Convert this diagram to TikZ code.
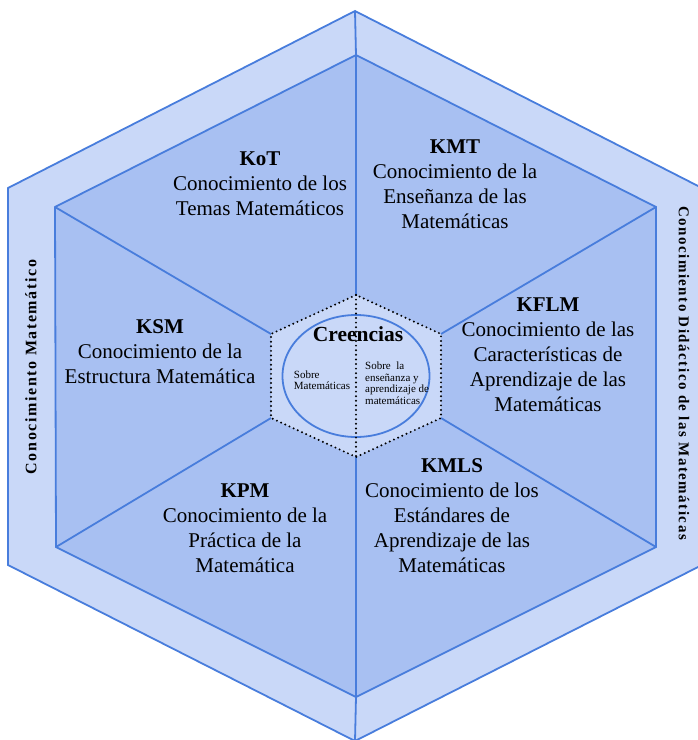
\documentclass[tikz,border=0pt]{standalone}
\usepackage{fontspec}
\setmainfont{Liberation Serif}
\usetikzlibrary{shapes.geometric}
\definecolor{banda}{RGB}{201,216,248}
\definecolor{sector}{RGB}{168,192,242}
\definecolor{linea}{RGB}{72,125,220}
\newcommand{\subdom}[2]{\textbf{#1}\\#2}

\begin{document}
\begin{tikzpicture}[x=1pt,y=-1pt]
                        \tikzstyle{borde}=[draw=linea,line width=1.8pt]
                        \tikzstyle{puntos}=[line width=2.2pt,line cap=round,dash pattern=on 0pt off 4.6pt]
                        \tikzstyle{dominio}=[align=center,font=\fontsize{21}{25}\selectfont]
                        \tikzstyle{nota}=[align=left,font=\fontsize{11}{11.5}\selectfont,inner sep=0pt]
                        \tikzstyle{lateral}=[font=\fontsize{15}{15}\selectfont\bfseries\addfontfeature{LetterSpace=10}]
                        \useasboundingbox (0,0) rectangle (698,740);
                        % vertices
                        \coordinate (o1) at (355,11);
                        \coordinate (o2) at (8,188);
                        \coordinate (o3) at (8,565);
                        \coordinate (o4) at (355,741);
                        \coordinate (o5) at (702,565);
                        \coordinate (o6) at (702,188);
                        \coordinate (i1) at (356,55);
                        \coordinate (i2) at (55,207);
                        \coordinate (i3) at (56,547);
                        \coordinate (i4) at (356,697);
                        \coordinate (i5) at (656,547);
                        \coordinate (i6) at (656,207);
                        \coordinate (c1) at (356,295);
                        \coordinate (c2) at (271,334);
                        \coordinate (c3) at (271,418);
                        \coordinate (c4) at (356,457);
                        \coordinate (c5) at (441,418);
                        \coordinate (c6) at (441,334);
                        % hexagons
                        \draw[borde,fill=banda] (o1) -- (o2) -- (o3) -- (o4) -- (o5) -- (o6) -- cycle;
                        \draw[borde,fill=sector] (i1) -- (i2) -- (i3) -- (i4) -- (i5) -- (i6) -- cycle;
                        \draw[borde] (o1) -- (i1);
                        \draw[borde] (o4) -- (i4);
                        \foreach \k in {1,...,6}
                            \draw[borde] (i\k) -- (c\k);
                        \fill[banda] (c1) -- (c2) -- (c3) -- (c4) -- (c5) -- (c6) -- cycle;
                        \draw[puntos] (c1) -- (c2) -- (c3) -- (c4) -- (c5) -- (c6) -- cycle;
                        \node (creen) [ellipse,borde,minimum width=147pt,minimum height=122pt] at (356,376) {};
                        \draw[puntos] (c1) -- (c4);
                        % labels
                        \node (kot) [dominio] at (260,184) {\subdom{KoT}{Conocimiento de los\\Temas Matemáticos}};
                        \node (kmt) [dominio] at (455,184) {\subdom{KMT}{Conocimiento de la\\Enseñanza de las\\Matemáticas}};
                        \node (kflm) [dominio] at (548,355) {\subdom{KFLM}{Conocimiento de las\\Características de\\Aprendizaje de las\\Matemáticas}};
                        \node (ksm) [dominio] at (160,352) {\subdom{KSM}{Conocimiento de la\\Estructura Matemática}};
                        \node (kpm) [dominio] at (245,528) {\subdom{KPM}{Conocimiento de la\\Práctica de la\\Matemática}};
                        \node (kmls) [dominio] at (452,516) {\subdom{KMLS}{Conocimiento de los\\Estándares de\\Aprendizaje de las\\Matemáticas}};
                        \node (titulo) [font=\fontsize{21.5}{21.5}\selectfont\bfseries] at (358,334) {Creencias};
                        \node (sobremat) [nota] at (322,380) {Sobre\\Matemáticas};
                        \node (sobreens) [nota,anchor=west] at (365,383) {Sobre\ \ la\\enseñanza y\\aprendizaje de\\matemáticas};
                        \node (cm) [lateral,font=\fontsize{16}{16}\selectfont\bfseries\addfontfeature{LetterSpace=10},rotate=90] at (31,367) {Conocimiento Matemático};
                        \node (cdm) [lateral,rotate=-90] at (684,373) {Conocimiento Didáctico de las Matemáticas};
                    \end{tikzpicture}
\end{document}
